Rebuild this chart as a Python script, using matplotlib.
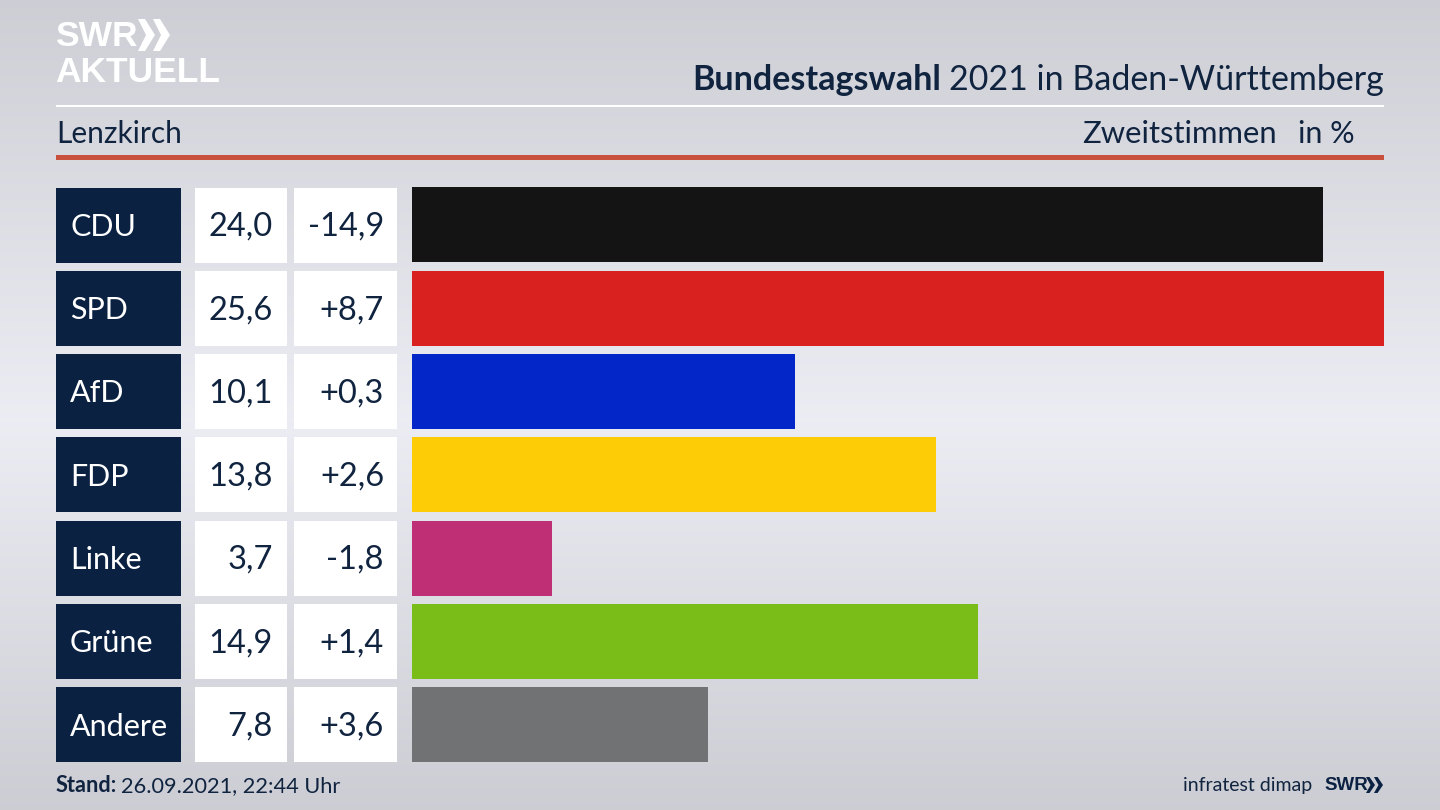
import numpy as np
import matplotlib
matplotlib.use('Agg')
import matplotlib.pyplot as plt
from matplotlib.patches import Rectangle, Polygon

plt.rcParams['font.family'] = ['Lato', 'DejaVu Sans']

# Data
parties = ['CDU', 'SPD', 'AfD', 'FDP', 'Linke', 'Grüne', 'Andere']
shares = [24.0, 25.6, 10.1, 13.8, 3.7, 14.9, 7.8]
share_labels = ['24,0', '25,6', '10,1', '13,8', '3,7', '14,9', '7,8']
change_labels = ['-14,9', '+8,7', '+0,3', '+2,6', '-1,8', '+1,4', '+3,6']
bar_colors = ['#141414', '#d9211f', '#0226c8', '#fecc07', '#bf2f75', '#7abd18', '#717274']

NAVY = '#0a2142'
TEXT = '#10233f'
LOGO_FONT = ['Liberation Sans', 'DejaVu Sans']

fig = plt.figure(figsize=(14.4, 8.1), dpi=100)

# background gradient, light in the middle
bg = fig.add_axes([0, 0, 1, 1])
stops_y = [0, 420, 810]
stops_v = [0.805, 0.925, 0.80]
grad = np.interp(np.arange(810), stops_y, stops_v).reshape(-1, 1)
rgb = np.dstack([grad, grad + 0.005, grad + 0.03])
bg.imshow(np.clip(rgb, 0, 1), aspect='auto', extent=[0, 1440, 810, 0])
bg.set_xlim(0, 1440)
bg.set_ylim(810, 0)
bg.axis('off')

# header lines
bg.add_patch(Rectangle((56, 104.5), 1328, 2.5, color='white', lw=0))
bg.add_patch(Rectangle((56, 155), 1328, 5, color='#c9503c', lw=0))

# logo
bg.text(55, 36, 'SWR', color='white', fontsize=25.5, fontweight='bold', va='center', ha='left', family=LOGO_FONT)
bg.text(55, 73, 'AKTUELL', color='white', fontsize=25.5, fontweight='bold', va='center', ha='left', family=LOGO_FONT)
for x0 in [138, 153]:
    bg.add_patch(Polygon([(x0, 19), (x0 + 7, 19), (x0 + 17, 35), (x0 + 7, 51), (x0, 51), (x0 + 8, 35)],
                         closed=True, color='white', lw=0))

# titles
title = bg.text(1384, 80, '2021 in Baden-Württemberg', color=TEXT, fontsize=24.5, va='center', ha='right')
fig.canvas.draw()
ext = title.get_window_extent()
bg.text(ext.x0 - 8, 80, 'Bundestagswahl', color=TEXT, fontsize=24.5, fontweight='bold', va='center', ha='right')
bg.text(56, 134, 'Lenzkirch', color=TEXT, fontsize=21.5, va='center', ha='left')
bg.text(1277, 134, 'Zweitstimmen', color=TEXT, fontsize=22.3, va='center', ha='right')
bg.text(1355, 134, 'in %', color=TEXT, fontsize=22, va='center', ha='right')

# table cells on the left
row_h = 75
pitch = 83.25
for i, party in enumerate(parties):
    top = 187.5 + i * pitch
    mid = top + row_h / 2
    bg.add_patch(Rectangle((56, top), 125, row_h, color=NAVY, lw=0))
    bg.add_patch(Rectangle((195, top), 92, row_h, color='white', lw=0))
    bg.add_patch(Rectangle((294, top), 103, row_h, color='white', lw=0))
    bg.text(70, mid + 2, party, color='white', fontsize=22, va='center', ha='left')
    bg.text(273, mid + 2, share_labels[i], color=TEXT, fontsize=23.5, va='center', ha='right')
    bg.text(384, mid + 2, change_labels[i], color=TEXT, fontsize=23.5, va='center', ha='right')

# bars
ax = fig.add_axes([412 / 1440, 1 - 762.3 / 810, 972 / 1440, 575 / 810])
ax.barh(range(len(parties)), shares, height=0.9, color=bar_colors)
ax.set_xlim(0, max(shares))
ax.set_ylim(6.45, -0.45)
ax.axis('off')

# footer
stand = bg.text(56, 792, 'Stand:', color=TEXT, fontsize=15.7, fontweight='bold', va='baseline', ha='left')
fig.canvas.draw()
ext = stand.get_window_extent()
bg.text(ext.x1 + 4, 792, '26.09.2021, 22:44 Uhr', color=TEXT, fontsize=15.7, va='baseline', ha='left')
bg.text(1312, 791, 'infratest dimap', color=TEXT, fontsize=14, va='baseline', ha='right')
bg.text(1324, 785, 'SWR', color=NAVY, fontsize=13.5, fontweight='bold', va='center', ha='left', family=LOGO_FONT)
for x0 in [1366, 1374]:
    bg.add_patch(Polygon([(x0, 777), (x0 + 3.5, 777), (x0 + 9, 785), (x0 + 3.5, 793), (x0, 793), (x0 + 4.5, 785)],
                         closed=True, color=NAVY, lw=0))

fig.savefig('out.png', dpi=100)
